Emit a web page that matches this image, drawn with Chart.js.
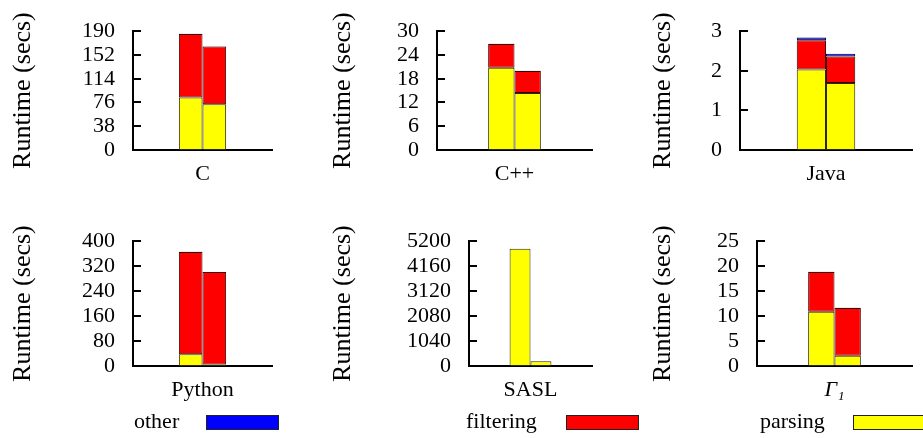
<!DOCTYPE html>
<html>
<head>
<meta charset="utf-8">
<script src="https://cdn.jsdelivr.net/npm/chart.js@4.4.0/dist/chart.umd.min.js"></script>
<style>
  body { margin: 0; background: #fff; }
  #wrap { position: relative; width: 923px; height: 438px; overflow: hidden; font-family: "Liberation Serif", serif; }
  canvas { position: absolute; }
  .lg { position: absolute; font-size: 22px; line-height: 22px; color: #000; }
  .box { position: absolute; height: 13px; border: 1px solid #222; }
</style>
</head>
<body>
<div id="wrap">
  <canvas id="p0" width="280" height="200" style="left:0;top:0"></canvas>
  <canvas id="p1" width="280" height="200" style="left:320px;top:0"></canvas>
  <canvas id="p2" width="283" height="200" style="left:640px;top:0"></canvas>
  <canvas id="p3" width="280" height="200" style="left:0;top:210px"></canvas>
  <canvas id="p4" width="280" height="200" style="left:320px;top:210px"></canvas>
  <canvas id="p5" width="283" height="200" style="left:640px;top:210px"></canvas>

  <span class="lg" style="left:134px;top:410px">other</span>
  <div class="box" style="left:206px;top:415px;width:71px;background:#0000ff"></div>
  <span class="lg" style="left:466px;top:410px">filtering</span>
  <div class="box" style="left:566px;top:415px;width:71px;background:#ff0000"></div>
  <span class="lg" style="left:760px;top:410px">parsing</span>
  <div class="box" style="left:853px;top:415px;width:71px;background:#ffff00"></div>
</div>
<script>
// benchmark languages, two runs each (left bar / right bar)
var langs = ['C', 'C++', 'Java', 'Python', 'SASL', 'Γ₁'];
var parsing1   = [84,   20.8, 2.03, 38,    4887, 10.85];
var filtering1 = [101.5, 5.95, 0.74, 327.5, 0,    8.0];
var other1     = [0.5,  0.05, 0.07, 0.3,   0,    0.05];
var parsing2   = [73,   14.4, 1.69, 5,     198,  2.04];
var filtering2 = [92.5, 5.55, 0.67, 296.3, 0,    9.6];
var other2     = [0.5,  0.05, 0.07, 0.3,   0,    0.05];
var yMax  = [190, 30, 3, 400, 5200, 25];
var yStep = [38, 6, 1, 80, 1040, 5];

// layout of each small panel
var yWidth = [133, 117, 100, 133, 149, 117];
var padTop = [19, 19, 19, 24, 24, 24];
var xHeight = [50, 50, 50, 44, 44, 44];
var padRight = [8, 8, 11, 8, 8, 11];

var colParsing = '#ffff00', colFiltering = '#ff0000', colOther = '#0000ff';

// small tick marks that point into the plot
var innerTicks = {
    id: 'innerTicks',
    afterDraw: function(chart) {
        var ctx = chart.ctx;
        var sy = chart.scales.y;
        var left = chart.chartArea.left;
        ctx.save();
        ctx.strokeStyle = '#000';
        ctx.lineWidth = 2;
        sy.ticks.forEach(function(t) {
            var py = Math.round(sy.getPixelForValue(t.value));
            ctx.beginPath();
            ctx.moveTo(left, py);
            ctx.lineTo(left + 8, py);
            ctx.stroke();
        });
        ctx.restore();
    }
};

function ds(label, val, stack, color, border) {
    return {
        label: label,
        data: [val],
        stack: stack,
        backgroundColor: color,
        borderColor: border,
        borderWidth: 1,
        borderSkipped: false,
        categoryPercentage: 0.34,
        barPercentage: 1.0
    };
}

for (var i = 0; i < 6; i++) {
    (function(i) {
        var ctx = document.getElementById('p' + i).getContext('2d');
        new Chart(ctx, {
            type: 'bar',
            data: {
                labels: [langs[i]],
                datasets: [
                    ds('parsing', parsing1[i], 'a', colParsing, '#2a2a00'),
                    ds('filtering', filtering1[i], 'a', colFiltering, '#3a0000'),
                    ds('other', other1[i], 'a', colOther, '#00003a'),
                    ds('parsing', parsing2[i], 'b', colParsing, '#2a2a00'),
                    ds('filtering', filtering2[i], 'b', colFiltering, '#3a0000'),
                    ds('other', other2[i], 'b', colOther, '#00003a')
                ]
            },
            options: {
                responsive: false,
                animation: false,
                layout: { padding: { top: padTop[i], right: padRight[i], left: 0, bottom: 0 } },
                plugins: { legend: { display: false }, tooltip: { enabled: false } },
                scales: {
                    x: {
                        stacked: true,
                        grid: { display: false, drawTicks: false },
                        border: { display: true, color: '#000', width: 2 },
                        ticks: {
                            color: '#000',
                            padding: 11,
                            font: { family: 'Liberation Serif', size: 22, style: i == 5 ? 'italic' : 'normal' }
                        },
                        afterFit: function(s) { s.height = xHeight[i]; }
                    },
                    y: {
                        stacked: true,
                        min: 0,
                        max: yMax[i],
                        grid: { display: false, drawTicks: false },
                        border: { display: true, color: '#000', width: 2 },
                        ticks: {
                            stepSize: yStep[i],
                            autoSkip: false,
                            color: '#000',
                            padding: 18,
                            font: { family: 'Liberation Serif', size: 22 },
                            callback: function(v) { return String(v); }
                        },
                        title: {
                            display: true,
                            text: 'Runtime (secs)',
                            color: '#000',
                            padding: { top: 8, bottom: 0 },
                            font: { family: 'Liberation Serif', size: 26 }
                        },
                        afterFit: function(s) { s.width = yWidth[i]; }
                    }
                }
            },
            plugins: [innerTicks]
        });
    })(i);
}
</script>
</body>
</html>
